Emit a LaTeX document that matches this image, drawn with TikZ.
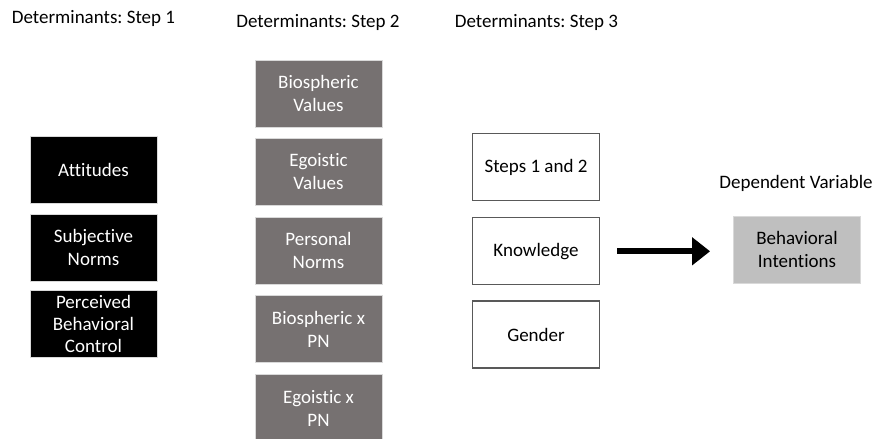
\documentclass[tikz,border=0pt]{standalone}
\usepackage{fontspec}
\setmainfont{Carlito}[Ligatures=NoCommon]
\usepackage{tikz}
\usetikzlibrary{arrows.meta,positioning}
\definecolor{valgray}{HTML}{767171}
\definecolor{dvgray}{HTML}{BFBFBF}
\definecolor{rimgray}{HTML}{D9D9D9}
\frenchspacing

\begin{document}
\begin{tikzpicture}[
  x=1pt,y=-1pt,
  node distance=10pt,
  box/.style={rectangle,align=center,font=\fontsize{19}{23}\selectfont,
              minimum width=127pt,minimum height=67pt,inner sep=1pt},
  tpb/.style={box,fill=black,draw=rimgray,line width=0.8pt,text=white},
  val/.style={box,fill=valgray,draw=rimgray,line width=0.8pt,text=white},
  ctl/.style={box,fill=white,draw=black!65,line width=1.2pt},
  dv/.style={box,fill=dvgray,draw=rimgray,line width=0.8pt},
  head/.style={font=\fontsize{19}{23}\selectfont,inner sep=0pt},
  arr/.style={-{Triangle[length=18pt,width=27pt]},line width=6pt}
]
\useasboundingbox (0,0) rectangle (876,439);
% column headers
\node[head] (h1) at (93.5,18) {Determinants: Step 1};
\node[head] (h2) at (318,22) {Determinants: Step 2};
\node[head] (h3) at (536.5,22) {Determinants: Step 3};
\node[head] (h4) at (796,183) {Dependent Variable};
% step 1
\node[tpb,anchor=north] (att) at (93.5,136) {Attitudes};
\node[tpb,below=of att] (sn) {Subjective\\Norms};
\node[tpb,below=8pt of sn,font=\fontsize{19}{22}\selectfont,inner ysep=0pt] (pbc) {Perceived\\Behavioral\\Control};
% step 2
\node[val,anchor=north] (bv) at (318.5,60) {Biospheric\\Values};
\node[val,below=of bv] (ev) {Egoistic\\Values};
\node[val,below=11pt of ev] (pn) {Personal\\Norms};
\node[val,below=11pt of pn] (bpn) {Biospheric x\\PN};
\node[val,below=11pt of bpn] (epn) {Egoistic x\\PN};
% step 3
\node[ctl,anchor=north] (s12) at (536,133) {Steps 1 and 2};
\node[ctl,below=16pt of s12] (know) {Knowledge};
\node[ctl,below=15pt of know] (gen) {Gender};
% outcome
\node[dv] (bi) at (797,249.5) {Behavioral\\Intentions};
\draw[arr] ([xshift=17pt]know.east) -- ([xshift=-23pt]know.east -| bi.west);
\end{tikzpicture}
\end{document}
